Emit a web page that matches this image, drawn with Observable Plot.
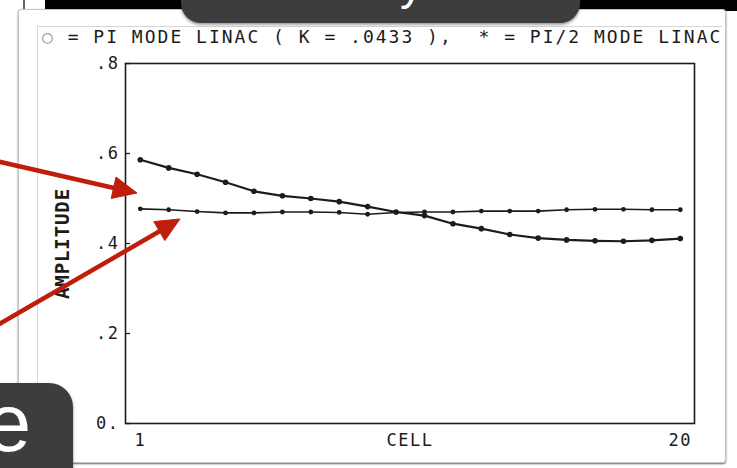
<!DOCTYPE html>
<html>
<head>
<meta charset="utf-8">
<script src="https://cdn.jsdelivr.net/npm/d3@7"></script>
<script src="https://cdn.jsdelivr.net/npm/@observablehq/plot@0.6"></script>
<style>
  html, body { margin: 0; padding: 0; background: #fff; }
  body { width: 737px; height: 468px; overflow: hidden; position: relative; font-family: "DejaVu Sans Mono", monospace; }
  #topbar { position: absolute; left: 45px; top: 0; width: 692px; height: 11px; background: #000; }
  #edge { position: absolute; left: 23px; top: 0; width: 2px; height: 10px; background: #666; }
  #card { position: absolute; left: 18px; top: 9px; width: 706px; height: 452px; background: #fff;
          border: 1px solid #c4c4c4; border-radius: 3px; box-shadow: 0 1px 2px rgba(0,0,0,0.6); }
  #scan { position: absolute; left: 37px; top: 26px; width: 684px; height: 432px; overflow: hidden; background: #fff;
          border-left: 1px solid #d6d6d6; border-top: 1px solid #d6d6d6; }
  #title { position: absolute; left: 4px; top: 1px; font-size: 18px; line-height: 18px; letter-spacing: 2px;
           white-space: pre; color: #1c1c1c; }
  #title .ring { color: #9a9a9a; }
  #chart { position: absolute; left: 0; top: 25px; }
  #chart svg text { letter-spacing: 1.5px; }
  #overlay { position: absolute; left: 0; top: 0; }
</style>
</head>
<body>
<div id="edge"></div>
<div id="topbar"></div>
<div id="card"></div>
<div id="scan">
  <div id="title"><span class="ring">○</span> = PI MODE LINAC ( K = .0433 ),  * = PI/2 MODE LINAC</div>
  <div id="chart"></div>
</div>
<svg id="overlay" width="737" height="468">
  <defs>
    <filter id="shadow" x="-20%" y="-20%" width="140%" height="140%">
      <feDropShadow dx="0" dy="1.5" stdDeviation="1.5" flood-color="#000" flood-opacity="0.45"/>
    </filter>
  </defs>
  <!-- pointers to the two curves -->
  <g fill="#bf1e0b" stroke="#bf1e0b" stroke-linecap="butt">
    <line x1="-4" y1="161" x2="114" y2="188" stroke-width="4.5"/>
    <polygon points="137,193 116,177 111.2,198.4" stroke-width="1"/>
    <line x1="-4" y1="326" x2="160" y2="231" stroke-width="4.5"/>
    <polygon points="180,219 153.8,221.6 164.8,240.6" stroke-width="1"/>
  </g>
  <!-- slide caption boxes -->
  <g filter="url(#shadow)">
    <rect x="181" y="-25" width="399" height="48" rx="20" fill="#3c3c3c"/>
    <rect x="-30" y="383" width="103" height="125" rx="24" fill="#3e3e3e"/>
  </g>
  <text x="400" y="-1" font-family="Liberation Sans, Arial, sans-serif" font-size="46" fill="#fff">y</text>
  <text x="31" y="451" text-anchor="end" font-family="Liberation Sans, Arial, sans-serif" font-size="82" fill="#fff">e</text>
</svg>
<script>
// Cell index along the structure
const cells = [1, 2, 3, 4, 5, 6, 7, 8, 9, 10, 11, 12, 13, 14, 15, 16, 17, 18, 19, 20];
// Field amplitude per cell, PI mode linac (K = .0433)
const piMode = [0.586, 0.568, 0.554, 0.536, 0.516, 0.506, 0.500, 0.493, 0.482, 0.470,
                0.462, 0.444, 0.433, 0.420, 0.412, 0.408, 0.406, 0.405, 0.407, 0.411];
// Field amplitude per cell, PI/2 mode linac
const piHalfMode = [0.477, 0.475, 0.471, 0.468, 0.468, 0.470, 0.470, 0.469, 0.465, 0.469,
                    0.470, 0.470, 0.472, 0.472, 0.472, 0.475, 0.476, 0.476, 0.475, 0.475];
// Axis ticks and their printed labels
const yTicks = [0, 0.2, 0.4, 0.6, 0.8];
const yTickLabels = ["0.", ".2", ".4", ".6", ".8"];
const xTicks = [1, 20];
const xLabel = "CELL";
const yLabel = "AMPLITUDE";

const piRows = cells.map((c, i) => ({cell: c, amp: piMode[i]}));
const piHalfRows = cells.map((c, i) => ({cell: c, amp: piHalfMode[i]}));
const yLabelOf = new Map(yTicks.map((t, i) => [t, yTickLabels[i]]));

const width = 684, height = 406;
const marginLeft = 87, marginRight = 28, marginTop = 11, marginBottom = 35;
const innerWidth = width - marginLeft - marginRight;
const ink = "#1c1c1c";

const chart = Plot.plot({
  width, height, marginLeft, marginRight, marginTop, marginBottom,
  style: {fontFamily: "'DejaVu Sans Mono', monospace", color: ink, background: "transparent"},
  x: {domain: [0.48, 20.5]},
  y: {domain: [0, 0.8]},
  marks: [
    Plot.frame({stroke: ink, strokeWidth: 1.6}),
    // short inward ticks on the amplitude axis
    Plot.tickY(yTicks, {y: d => d, stroke: ink, strokeWidth: 1.3, insetRight: innerWidth - 5}),
    Plot.axisY(yTicks, {tickSize: 0, tickPadding: 6, tickFormat: d => yLabelOf.get(d), label: null, fontSize: 17}),
    Plot.axisX(xTicks, {tickSize: 0, tickPadding: 10, label: null, fontSize: 17}),
    Plot.text([xLabel], {text: d => d, frameAnchor: "bottom", lineAnchor: "middle", dy: 17, fontSize: 17, fill: ink}),
    Plot.text([yLabel], {text: d => d, frameAnchor: "left", textAnchor: "middle", lineAnchor: "middle",
                         dx: -63, rotate: -90, fontSize: 19, fontWeight: "bold", fill: ink}),
    Plot.line(piRows, {x: "cell", y: "amp", stroke: ink, strokeWidth: 2.2}),
    Plot.dot(piRows, {x: "cell", y: "amp", r: 2.8, fill: ink}),
    Plot.line(piHalfRows, {x: "cell", y: "amp", stroke: ink, strokeWidth: 1.6}),
    Plot.dot(piHalfRows, {x: "cell", y: "amp", r: 2.4, fill: ink})
  ]
});
// the vertical axis title is set a little tighter than the other labels
d3.select(chart).selectAll("text")
  .filter(function () { return this.textContent === yLabel; })
  .style("letter-spacing", "0.9px");
document.getElementById("chart").appendChild(chart);
</script>
</body>
</html>
